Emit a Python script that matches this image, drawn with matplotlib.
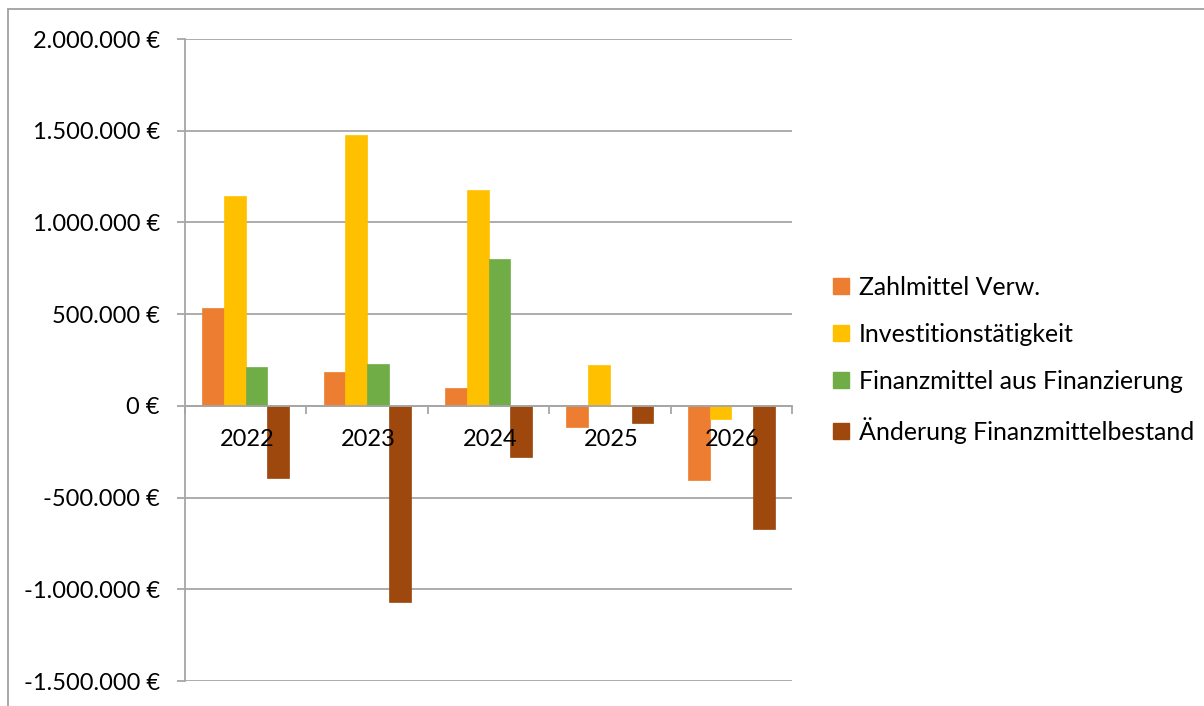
import matplotlib
matplotlib.use("Agg")
import matplotlib.pyplot as plt
from matplotlib.ticker import FuncFormatter, FixedLocator
from matplotlib.patches import Rectangle, Patch
import numpy as np

years = ["2022", "2023", "2024", "2025", "2026"]
series_names = ["Zahlmittel Verw.", "Investitionstätigkeit",
                "Finanzmittel aus Finanzierung", "Änderung Finanzmittelbestand"]
zahlmittel = [533000, 182000, 98000, -116000, -402000]
investition = [1143000, 1478000, 1176000, 224000, -69000]
finanzierung = [213000, 229000, 800000, 0, 0]
aenderung = [-394000, -1067000, -280000, -93000, -672000]
colors = ["#ED7D31", "#FFC000", "#70AD47", "#9E480E"]
yticks = [-1500000, -1000000, -500000, 0, 500000, 1000000, 1500000, 2000000]

plt.rcParams['font.family'] = ['Lato', 'DejaVu Sans']
W, H = 1204, 706
fig = plt.figure(figsize=(W / 100, H / 100), dpi=100)
ax = fig.add_axes([185 / W, 1 - 681 / H, (792 - 185) / W, (681 - 39) / H])

x = np.arange(len(years))
bw = 0.179
data = [zahlmittel, investition, finanzierung, aenderung]
for i, (vals, c) in enumerate(zip(data, colors)):
    ax.bar(x + (i - 1.5) * bw, vals, width=bw, color=c, edgecolor=c,
           linewidth=0.5, zorder=3)

ax.set_xlim(-0.5, len(years) - 0.5)
ax.set_ylim(-1500000, 2000000)
ax.yaxis.set_major_locator(FixedLocator(yticks))
ax.yaxis.set_major_formatter(FuncFormatter(
    lambda v, p: f"{v:,.0f}".replace(",", ".") + " €"))
grid_c = "#A6A6A6"
ax.set_axisbelow(True)
ax.grid(axis='y', color=grid_c, linewidth=1.3)
for s in ['top', 'right']:
    ax.spines[s].set_visible(False)
ax.spines['left'].set_color(grid_c)
ax.spines['left'].set_linewidth(1.3)
ax.spines['bottom'].set_position(('data', 0))
ax.spines['bottom'].set_color(grid_c)
ax.spines['bottom'].set_linewidth(1.3)
ax.spines['bottom'].set_zorder(4)

ax.tick_params(axis='y', which='major', length=6, width=1.3, color=grid_c,
               labelsize=17, pad=12, labelcolor='black')
ax.set_xticks(np.arange(-0.5, len(years), 1.0))
ax.set_xticklabels([])
ax.tick_params(axis='x', which='major', direction='out', length=6, width=1.3,
               color=grid_c)

for i, yr in enumerate(years):
    ax.annotate(yr, xy=(i, 0), xytext=(1, -24.5), textcoords='offset points',
                ha='center', va='center', fontsize=17, zorder=6)

handles = [Patch(facecolor=c, edgecolor=c) for c in colors]
fig.legend(handles, series_names, loc='center left',
           bbox_to_anchor=(811 / W, 1 - 360 / H), frameon=False,
           fontsize=17.9, handlelength=0.62, handleheight=0.62,
           handletextpad=0.4, labelspacing=0.97)

fig.patches.append(Rectangle((8 / W, -0.1), 2, (H - 9) / H + 0.1,
                             transform=fig.transFigure, fill=False,
                             edgecolor="#A0A0A0", linewidth=1.3))
fig.savefig("out.png", dpi=100)
